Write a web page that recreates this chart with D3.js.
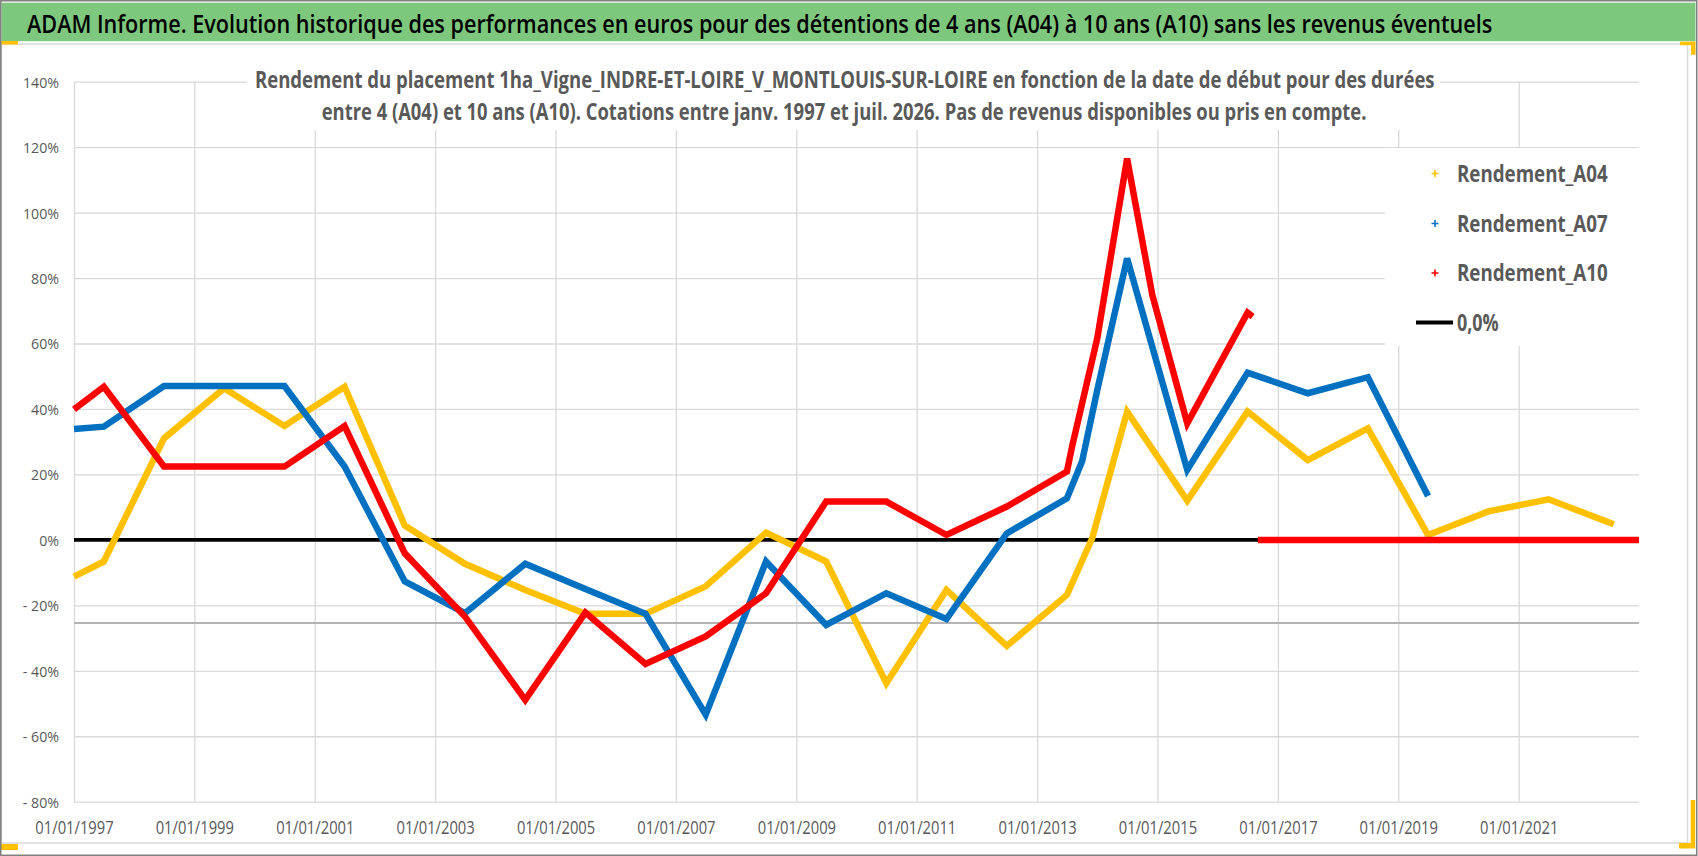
<!DOCTYPE html>
<meta charset="utf-8">
<title>ADAM Informe - Vigne Montlouis-sur-Loire</title>
<style>
    body { margin: 0; background: #fff; }
    svg { display: block; font-family: "Open Sans", "Liberation Sans", sans-serif; }
</style>

<script src="https://d3js.org/d3.v7.min.js"></script>

<body>
<script>
    // Rendement A04 (4 ans) - knots, in %
    const months04 = ["1997-01", "1997-07", "1998-07", "1999-07", "2000-07", "2001-07", "2002-07", "2003-07",
        "2004-07", "2005-07", "2006-07", "2007-07", "2008-07", "2009-07", "2010-07", "2011-07", "2012-07",
        "2013-07", "2013-12", "2014-07", "2015-07", "2016-07", "2017-07", "2018-07", "2019-07", "2020-07",
        "2021-07", "2022-08"];
    const rend04 = [-11.2, -6.6, 31.0, 46.3, 34.8, 46.8, 4.4, -7.3,
        -15.3, -22.6, -22.6, -14.2, 2.2, -6.6, -43.8, -15.3, -32.4,
        -16.8, 0.5, 39.2, 12.0, 39.2, 24.4, 34.1, 1.5, 8.7,
        12.4, 4.8];

    // Rendement A07 (7 ans)
    const months07 = ["1997-01", "1997-07", "1998-07", "2000-07", "2001-07", "2002-07", "2003-07", "2004-07",
        "2005-07", "2006-07", "2007-07", "2008-07", "2009-07", "2010-07", "2011-07", "2012-07", "2013-07",
        "2013-10", "2014-01", "2014-07", "2015-07", "2016-07", "2017-07", "2018-07", "2019-07"];
    const rend07 = [33.9, 34.6, 47.0, 47.0, 22.4, -12.7, -22.4, -7.3,
        -15.0, -22.6, -53.4, -6.6, -26.0, -16.3, -24.2, 2.0, 12.7,
        24.0, 45.8, 86.0, 21.4, 51.1, 44.8, 49.7, 13.4];

    // Rendement A10 (10 ans), then the flat part at 0 once there is no more data
    const months10 = ["1997-01", "1997-07", "1998-07", "2000-07", "2001-07", "2002-07", "2003-07", "2004-07",
        "2005-07", "2006-07", "2007-07", "2008-07", "2009-07", "2010-07", "2011-07", "2012-07", "2013-07",
        "2013-08", "2014-01", "2014-07", "2014-12", "2015-07", "2016-07", "2016-08"];
    const rend10 = [39.9, 46.8, 22.4, 22.4, 34.8, -4.1, -23.4, -48.9,
        -22.2, -37.9, -29.5, -16.3, 11.7, 11.7, 1.5, 10.2, 20.9,
        28.5, 61.6, 116.5, 74.8, 35.6, 69.4, 68.2];
    const months10Zero = ["2016-09", "2023-01"];
    const rend10Zero = [0, 0];

    // 0,0% reference line
    const zeroMonths = ["1997-01", "2023-01"];
    const zeroValues = [0, 0];

    // the stray grey line under -20%
    const strayLineValue = -25.4;

    const xTickLabels = ["01/01/1997", "01/01/1999", "01/01/2001", "01/01/2003", "01/01/2005", "01/01/2007",
        "01/01/2009", "01/01/2011", "01/01/2013", "01/01/2015", "01/01/2017", "01/01/2019", "01/01/2021"];
    const yTicks = [-80, -60, -40, -20, 0, 20, 40, 60, 80, 100, 120, 140];

    const seriesNames = ["Rendement_A04", "Rendement_A07", "Rendement_A10"];
    const seriesColors = ["#ffc000", "#0070c0", "#ff0000"];
    const zeroName = "0,0%";

    const mainTitle = "ADAM Informe. Evolution historique des performances en euros pour des détentions de 4 ans (A04) à 10 ans (A10) sans les revenus éventuels";
    const subTitle = [
        "Rendement du placement 1ha_Vigne_INDRE-ET-LOIRE_V_MONTLOUIS-SUR-LOIRE en fonction de la date de début pour des durées",
        "entre 4 (A04) et 10 ans (A10). Cotations entre janv. 1997 et juil. 2026. Pas de revenus disponibles ou pris en compte."
    ];

    const W = 1698, H = 856;
    const plot = { left: 74, right: 1639, top: 81.7, bottom: 801.7 };
    const grey = "#595959";

    const parseMonth = d3.timeParse("%Y-%m");
    const parseTick = d3.timeParse("%d/%m/%Y");

    // the source picture is narrower than the fonts: scale texts horizontally
    function fitTo(sel, width) {
        const n = sel.node().getComputedTextLength();
        const x0 = +sel.attr("x"), y0 = +sel.attr("y");
        sel.attr("x", 0).attr("y", 0)
            .attr("transform", `translate(${x0},${y0}) scale(${width / n},1)`);
    }
    function squeeze(sel, k) {
        sel.each(function () {
            const n = this.getComputedTextLength();
            d3.select(this).attr("textLength", n * k).attr("lengthAdjust", "spacingAndGlyphs");
        });
    }

    const svg = d3.select("body")
        .append("svg")
        .attr("width", W)
        .attr("height", H);

    svg.append("rect").attr("width", W).attr("height", H).attr("fill", "#fff");

    // chart area frame
    svg.append("rect")
        .attr("x", 1.5).attr("y", 44)
        .attr("width", 1686).attr("height", 799)
        .attr("fill", "#fff")
        .attr("stroke", "#d9d9d9").attr("stroke-width", 1.5);

    // scales
    const x = d3.scaleTime()
        .domain([parseMonth("1997-01"), parseMonth("2023-01")])
        .range([plot.left, plot.right]);

    const y = d3.scaleLinear()
        .domain([-80, 140])
        .range([plot.bottom, plot.top]);

    // y axis + horizontal gridlines
    const gy = svg.append("g")
        .attr("transform", `translate(${plot.left},0)`)
        .call(d3.axisLeft(y)
            .tickValues(yTicks)
            .tickSize(-(plot.right - plot.left))
            .tickPadding(15)
            .tickFormat(d => d < 0 ? "- " + (-d) + "%" : d + "%"));
    gy.select(".domain").remove();
    gy.selectAll(".tick line").attr("stroke", "#d9d9d9").attr("stroke-width", 1.3);
    gy.selectAll(".tick text")
        .attr("fill", grey)
        .attr("dy", "0.36em")
        .style("font-size", "15px")
        .style("font-family", "'Open Sans', sans-serif");

    // x axis + vertical gridlines
    const gx = svg.append("g")
        .attr("transform", `translate(0,${plot.bottom})`)
        .call(d3.axisBottom(x)
            .tickValues(xTickLabels.map(parseTick))
            .tickSize(-(plot.bottom - plot.top))
            .tickPadding(20)
            .tickFormat(d3.timeFormat("%d/%m/%Y")));
    gx.select(".domain").remove();
    gx.selectAll(".tick line").attr("stroke", "#d9d9d9").attr("stroke-width", 1.3);
    gx.selectAll(".tick text")
        .attr("fill", grey)
        .style("font-size", "18px")
        .style("font-family", "'Open Sans', sans-serif");

    // make the tick labels as narrow as in the picture
    const yRef = gy.selectAll(".tick text").filter(d => d === 140).node().getComputedTextLength();
    squeeze(gy.selectAll(".tick text"), 36 / yRef);
    const xRef = gx.select(".tick text").node().getComputedTextLength();
    squeeze(gx.selectAll(".tick text"), 78.3 / xRef);

    // stray grey line
    svg.append("line")
        .attr("x1", plot.left).attr("x2", plot.right)
        .attr("y1", y(strayLineValue)).attr("y2", y(strayLineValue))
        .attr("stroke", "#b4b4b4").attr("stroke-width", 2);

    // series
    const line = d3.line()
        .x(d => x(d.date))
        .y(d => y(d.value));

    function toPoints(months, values) {
        return months.map((m, i) => ({ date: parseMonth(m), value: values[i] }));
    }

    svg.append("path")
        .datum(toPoints(zeroMonths, zeroValues))
        .attr("d", line)
        .attr("fill", "none")
        .attr("stroke", "#000")
        .attr("stroke-width", 3.7);

    const series = [
        { pts: toPoints(months04, rend04), color: seriesColors[0] },
        { pts: toPoints(months07, rend07), color: seriesColors[1] },
        { pts: toPoints(months10, rend10), color: seriesColors[2] },
        { pts: toPoints(months10Zero, rend10Zero), color: seriesColors[2] }
    ];

    svg.selectAll("path.serie")
        .data(series)
        .join("path")
        .attr("class", "serie")
        .attr("d", d => line(d.pts))
        .attr("fill", "none")
        .attr("stroke", d => d.color)
        .attr("stroke-width", 6.5)
        .attr("stroke-linejoin", "miter");

    // chart subtitle (white box over the gridlines)
    svg.append("rect")
        .attr("x", 247).attr("y", 60)
        .attr("width", 1193).attr("height", 70)
        .attr("fill", "#fff");

    const subX = [255, 321.7], subY = [88.3, 120], subW = [1180, 1045];
    subTitle.forEach((t, i) => {
        svg.append("text")
            .attr("x", subX[i])
            .attr("y", subY[i])
            .attr("fill", grey)
            .style("font-size", "22.5px")
            .style("font-weight", "bold")
            .text(t)
            .call(fitTo, subW[i]);
    });

    // legend
    svg.append("rect")
        .attr("x", 1385).attr("y", 148)
        .attr("width", 255).attr("height", 198)
        .attr("fill", "#fff");

    const legY = [173.5, 223.5, 273];
    seriesNames.forEach((name, i) => {
        const cy = legY[i];
        svg.append("path")
            .attr("d", `M${1435 - 3.5},${cy}h7M1435,${cy - 3.5}v7`)
            .attr("stroke", seriesColors[i])
            .attr("stroke-width", 1.6);
        svg.append("text")
            .attr("x", 1457)
            .attr("y", cy + 8.3)
            .attr("fill", grey)
            .style("font-size", "23px")
            .style("font-weight", "bold")
            .text(name)
            .call(fitTo, 150.7);
    });
    svg.append("line")
        .attr("x1", 1416).attr("x2", 1453)
        .attr("y1", 322.5).attr("y2", 322.5)
        .attr("stroke", "#000").attr("stroke-width", 4);
    svg.append("text")
        .attr("x", 1457)
        .attr("y", 330.7)
        .attr("fill", grey)
        .style("font-size", "23px")
        .style("font-weight", "bold")
        .text(zeroName)
        .call(fitTo, 41.7);

    // green title bar
    svg.append("rect")
        .attr("x", 1.5).attr("y", 2.7)
        .attr("width", 1694).attr("height", 38.5)
        .attr("fill", "#7ec87e");
    svg.append("text")
        .attr("x", 27)
        .attr("y", 33)
        .attr("fill", "#000")
        .style("font-size", "25px")
        .style("font-weight", 600)
        .text(mainTitle)
        .call(fitTo, 1466);

    // yellow selection handles
    const handles = [
        [0, 41, 18, 3.5], [1680, 41.7, 15, 3.5], [1691, 41.7, 4.5, 13],
        [1690.7, 800, 4.5, 48], [1679, 843, 16, 5.5], [0, 844, 18, 6]
    ];
    svg.selectAll("rect.handle")
        .data(handles)
        .join("rect")
        .attr("class", "handle")
        .attr("x", d => d[0]).attr("y", d => d[1])
        .attr("width", d => d[2]).attr("height", d => d[3])
        .attr("fill", "#ffc000");

    // outer frame
    svg.append("rect")
        .attr("x", 0.75).attr("y", 0.75)
        .attr("width", W - 2).attr("height", H - 1.5)
        .attr("fill", "none")
        .attr("stroke", "#808080").attr("stroke-width", 1.5);
</script>
</body>
